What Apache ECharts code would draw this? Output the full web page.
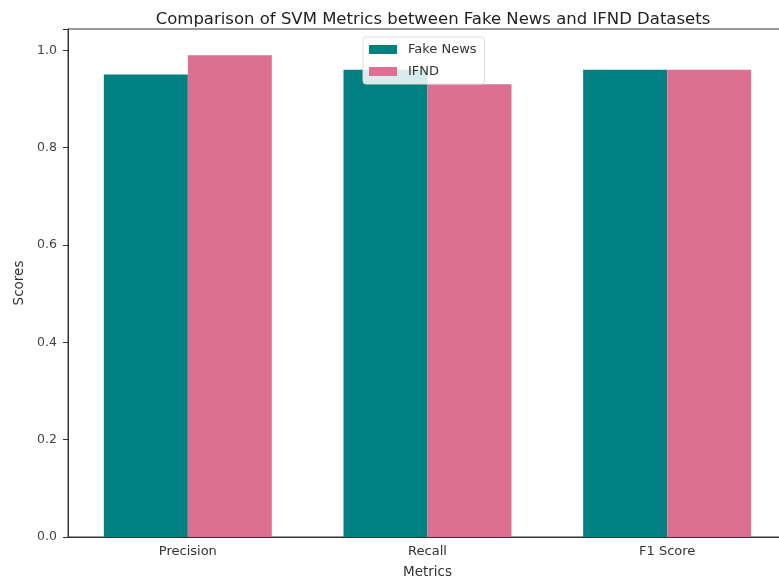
<!DOCTYPE html>
<html>
<head>
<meta charset="utf-8">
<script src="https://cdn.jsdelivr.net/npm/echarts@6/dist/echarts.min.js"></script>
<style>html,body{margin:0;padding:0;background:#fff}#c{width:779px;height:578px}</style>
</head>
<body>
<div id="c"></div>
<script>
var categories = ['Precision', 'Recall', 'F1 Score'];
var fakeNews = [0.95, 0.96, 0.96];
var ifnd = [0.99, 0.93, 0.96];
var yTicks = [0.0, 0.2, 0.4, 0.6, 0.8, 1.0];
var seriesNames = ['Fake News', 'IFND'];

var chart = echarts.init(document.getElementById('c'), null, {renderer: 'canvas'});
var font = 'DejaVu Sans';
chart.setOption({
  animation: false,
  backgroundColor: '#fff',
  title: {
    text: 'Comparison of SVM Metrics between Fake News and IFND Datasets',
    left: 428, top: 6, textAlign: 'center',
    textStyle: {fontFamily: font, fontSize: 16.5, fontWeight: 'normal', color: '#222'}
  },
  legend: {
    data: seriesNames,
    orient: 'vertical',
    left: 363, top: 37,
    itemWidth: 28, itemHeight: 9, itemGap: 9,
    padding: [6, 8, 6, 6],
    backgroundColor: 'rgba(255,255,255,0.85)',
    borderColor: '#ddd', borderWidth: 1, borderRadius: 3,
    icon: 'rect',
    textStyle: {fontFamily: font, fontSize: 13, color: '#333', padding: [0, 0, 0, 6]}
  },
  grid: {left: 68, top: 29, right: -8, bottom: 41, containLabel: false, outerBoundsMode: 'none',
    show: true, borderColor: '#333', borderWidth: 1},
  xAxis: {
    type: 'category', data: categories,
    name: 'Metrics', nameLocation: 'middle', nameGap: 28,
    nameTextStyle: {fontFamily: font, fontSize: 13.5, color: '#333'},
    axisLine: {lineStyle: {color: '#333'}},
    axisTick: {alignWithLabel: true, length: 5, lineStyle: {color: '#333'}},
    axisLabel: {fontFamily: font, fontSize: 13, color: '#333', margin: 8}
  },
  yAxis: {
    type: 'value', min: 0, max: 1.0437, interval: 0.2,
    name: 'Scores', nameLocation: 'middle', nameGap: 39,
    nameTextStyle: {fontFamily: font, fontSize: 13.5, color: '#333'},
    axisLine: {show: true, lineStyle: {color: '#333'}},
    axisTick: {show: true, length: 5, lineStyle: {color: '#333'}},
    splitLine: {show: false},
    showMaxLabel: false,
    axisLabel: {fontFamily: font, fontSize: 12.5, color: '#444', margin: 11,
      formatter: function (v) {
        var r = Math.round(v * 10) / 10;
        return (yTicks.indexOf(r) >= 0 && Math.abs(v - r) < 1e-6) ? r.toFixed(1) : '';
      }}
  },
  series: [
    {name: seriesNames[0], type: 'bar', data: fakeNews, barWidth: 84, barGap: '0%', itemStyle: {color: '#008080'}},
    {name: seriesNames[1], type: 'bar', data: ifnd, barWidth: 84, barGap: '0%', itemStyle: {color: '#db7093'}}
  ]
});
</script>
</body>
</html>
